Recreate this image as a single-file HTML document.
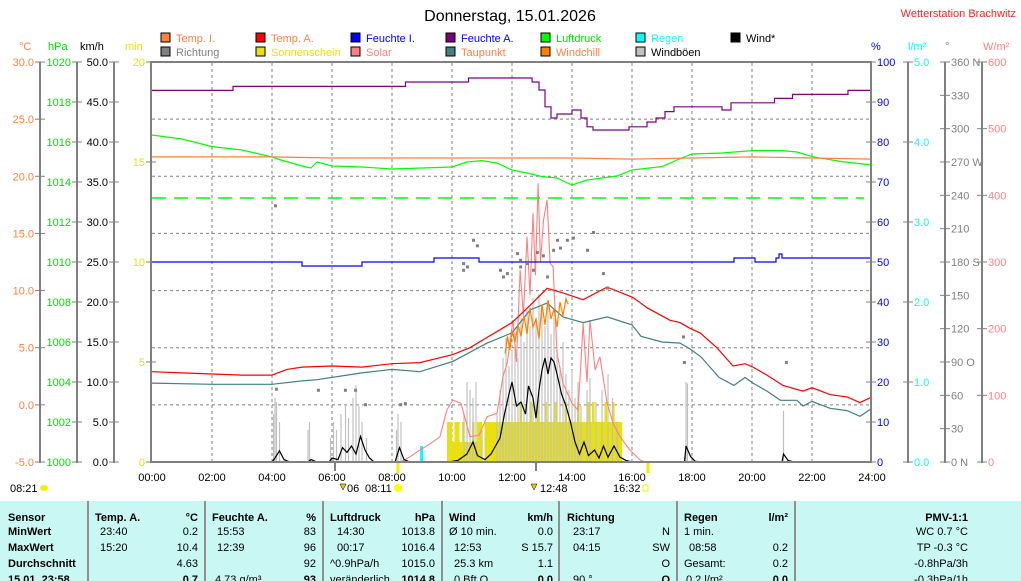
<!DOCTYPE html>
<html><head><meta charset="utf-8">
<style>
html,body{margin:0;padding:0;background:#fff;}
svg{display:block;font-family:"Liberation Sans",Arial,sans-serif;font-size:11px;}
</style></head>
<body>
<svg id="chart" xmlns="http://www.w3.org/2000/svg" width="1021" height="581" viewBox="0 0 1021 581">
  <text x="510" y="21" text-anchor="middle" font-size="16" fill="#000">Donnerstag, 15.01.2026</text>
  <text x="1016" y="17" text-anchor="end" font-size="11" fill="#ff2020">Wetterstation Brachwitz</text>

  <g id="legend"></g>
  <g id="axes"></g>
  <g id="grid"></g>
  <g id="marks"></g>
  <g id="frame">
    <line x1="151" y1="62" x2="872" y2="62" stroke="#808080" stroke-width="2"/>
    <line x1="151" y1="61" x2="151" y2="463" stroke="#808080" stroke-width="2"/>
    <line x1="871" y1="61" x2="871" y2="463" stroke="#808080" stroke-width="2"/>
    <line x1="151" y1="462" x2="872" y2="462" stroke="#808080" stroke-width="2"/>
  </g>
  <g id="xaxis"></g>

  <g>
    <line x1="335" y1="463" x2="335" y2="471" stroke="#808080" stroke-width="2"/>
    <line x1="536" y1="463" x2="536" y2="471" stroke="#808080" stroke-width="2"/>
    <line x1="398" y1="463" x2="398" y2="473" stroke="#f0f000" stroke-width="3"/>
    <line x1="648" y1="463" x2="648" y2="473" stroke="#f0f000" stroke-width="3"/>
    <text x="10" y="492" fill="#000">08:21</text>
    <ellipse cx="44" cy="488" rx="4" ry="3" fill="#f0f000"/>
    <path d="M340 484 l3 6 l3 -6 z" fill="#e0d000" stroke="#000" stroke-width="0.5"/>
    <text x="347" y="492" fill="#000">06</text>
    <text x="365" y="492" fill="#000">08:11</text>
    <circle cx="398" cy="488" r="4" fill="#ffff00"/>
    <path d="M531 484 l3 6 l3 -6 z" fill="#e0d000" stroke="#000" stroke-width="0.5"/>
    <text x="540" y="492" fill="#000">12:48</text>
    <text x="613" y="492" fill="#000">16:32</text>
    <rect x="643" y="485" width="5" height="6" fill="none" stroke="#f0f000"/>
  </g>

  <g font-size="11">
    <rect x="0" y="501" width="1021" height="80" fill="#c9f7f3"/>
    <g stroke="#909090" stroke-width="2">
      <line x1="88" y1="501" x2="88" y2="581"/>
      <line x1="205" y1="501" x2="205" y2="581"/>
      <line x1="323" y1="501" x2="323" y2="581"/>
      <line x1="442" y1="501" x2="442" y2="581"/>
      <line x1="559" y1="501" x2="559" y2="581"/>
      <line x1="677" y1="501" x2="677" y2="581"/>
      <line x1="795" y1="501" x2="795" y2="581"/>
    </g>
    <g font-weight="bold" fill="#000">
      <text x="8" y="521">Sensor</text><text x="8" y="535">MinWert</text><text x="8" y="551">MaxWert</text><text x="8" y="567">Durchschnitt</text><text x="8" y="583">15.01. 23:58</text>
    </g>
    <g fill="#000">
      <text x="95" y="521" font-weight="bold">Temp. A.</text><text x="198" y="521" text-anchor="end" font-weight="bold">°C</text>
      <text x="100" y="535">23:40</text><text x="198" y="535" text-anchor="end">0.2</text>
      <text x="100" y="551">15:20</text><text x="198" y="551" text-anchor="end">10.4</text>
      <text x="198" y="567" text-anchor="end">4.63</text>
      <text x="198" y="583" text-anchor="end" font-weight="bold">0.7</text>
    </g>
    <g fill="#000">
      <text x="212" y="521" font-weight="bold">Feuchte A.</text><text x="316" y="521" text-anchor="end" font-weight="bold">%</text>
      <text x="217" y="535">15:53</text><text x="316" y="535" text-anchor="end">83</text>
      <text x="217" y="551">12:39</text><text x="316" y="551" text-anchor="end">96</text>
      <text x="316" y="567" text-anchor="end">92</text>
      <text x="215" y="583">4.73 g/m³</text><text x="316" y="583" text-anchor="end" font-weight="bold">93</text>
    </g>
    <g fill="#000">
      <text x="330" y="521" font-weight="bold">Luftdruck</text><text x="435" y="521" text-anchor="end" font-weight="bold">hPa</text>
      <text x="337" y="535">14:30</text><text x="435" y="535" text-anchor="end">1013.8</text>
      <text x="337" y="551">00:17</text><text x="435" y="551" text-anchor="end">1016.4</text>
      <text x="330" y="567">^0.9hPa/h</text><text x="435" y="567" text-anchor="end">1015.0</text>
      <text x="330" y="583">veränderlich</text><text x="435" y="583" text-anchor="end" font-weight="bold">1014.8</text>
    </g>
    <g fill="#000">
      <text x="449" y="521" font-weight="bold">Wind</text><text x="553" y="521" text-anchor="end" font-weight="bold">km/h</text>
      <text x="449" y="535">Ø 10 min.</text><text x="553" y="535" text-anchor="end">0.0</text>
      <text x="454" y="551">12:53</text><text x="553" y="551" text-anchor="end">S 15.7</text>
      <text x="454" y="567">25.3 km</text><text x="553" y="567" text-anchor="end">1.1</text>
      <text x="454" y="583">0 Bft O</text><text x="553" y="583" text-anchor="end" font-weight="bold">0.0</text>
    </g>
    <g fill="#000">
      <text x="567" y="521" font-weight="bold">Richtung</text>
      <text x="573" y="535">23:17</text><text x="670" y="535" text-anchor="end">N</text>
      <text x="573" y="551">04:15</text><text x="670" y="551" text-anchor="end">SW</text>
      <text x="670" y="567" text-anchor="end">O</text>
      <text x="573" y="583">90 °</text><text x="670" y="583" text-anchor="end" font-weight="bold">O</text>
    </g>
    <g fill="#000">
      <text x="684" y="521" font-weight="bold">Regen</text><text x="788" y="521" text-anchor="end" font-weight="bold">l/m²</text>
      <text x="684" y="535">1 min.</text>
      <text x="689" y="551">08:58</text><text x="788" y="551" text-anchor="end">0.2</text>
      <text x="684" y="567">Gesamt:</text><text x="788" y="567" text-anchor="end">0.2</text>
      <text x="686" y="583">0.2 l/m²</text><text x="788" y="583" text-anchor="end" font-weight="bold">0.0</text>
    </g>
    <g fill="#000" text-anchor="end">
      <text x="968" y="521" font-weight="bold">PMV-1:1</text>
      <text x="968" y="535">WC 0.7 °C</text>
      <text x="968" y="551">TP -0.3 °C</text>
      <text x="968" y="567">-0.8hPa/3h</text>
      <text x="968" y="583">-0.3hPa/1h</text>
    </g>
  </g>
</svg>
<script>
const NS = "http://www.w3.org/2000/svg";
// ---------- data ----------
const hourTicks = ["00:00","02:00","04:00","06:00","08:00","10:00","12:00","14:00","16:00","18:00","20:00","22:00","24:00"];
const tempATimes = [0,1,2,3,4,4.5,5,6,7,8,8.93,10.03,10.6,11.17,12,12.6,13.17,13.7,14.37,15.17,16.03,16.5,17.27,17.6,17.93,18.27,18.83,19.37,19.77,20.03,20.5,21.03,21.7,22,22.6,23.17,23.6,24];
const tempAValues = [2.9,2.8,2.7,2.6,2.6,3.1,3.3,3.4,3.3,3.6,3.7,4.4,5.0,5.9,7.2,8.7,10.2,9.8,9.2,10.3,9.4,8.5,7.4,7.2,6.7,6.3,5.0,3.4,3.6,3.3,2.6,1.7,1.2,1.5,0.9,0.7,0.2,0.7];
const dewTimes = [0,2,4,5,5.5,6.5,7,8,8.93,10.03,11.17,12,12.6,13.17,13.7,14.37,15.17,16.0,16.3,17,17.6,17.93,18.3,18.9,19.4,19.77,20.03,20.5,20.95,21.5,21.7,22,22.6,23.17,23.6,24];
const dewValues = [1.9,1.8,1.8,2.1,2.2,2.6,2.8,3.1,2.9,3.8,5.4,6.3,8.3,8.9,7.7,7.2,7.7,7.0,6.0,5.5,5.4,4.9,4.2,2.4,1.7,2.4,1.9,1.2,0.4,0.4,-0.1,0.3,-0.3,-0.5,-1.0,-0.3];
const tempITimes = [0,2,4,6,8,10,12,14,16,18,20,22,24];
const tempIValues = [21.7,21.7,21.7,21.6,21.6,21.6,21.6,21.6,21.5,21.6,21.7,21.6,21.5];
const humATimes = [0,2.6,2.7,8.4,8.45,10.5,10.55,12.6,12.67,12.9,13.1,13.3,13.5,14.0,14.3,14.5,14.7,15.8,15.9,16.5,16.8,17.1,17.4,18.85,19.0,19.3,20.7,20.75,21.3,21.35,23.15,23.2,24];
const humAValues = [92.9,92.9,93.9,93.9,95,95,96,96,95,93,88.8,86,87,88,86,83.8,83,83,83.8,85,86,87.6,88.8,88.8,88,89.8,89.8,90.9,90.9,91.9,91.9,92.9,92.9];
const humITimes = [0,4.9,5.0,6.9,7.0,9.3,9.4,10.8,10.9,19.3,19.4,20.0,20.1,20.8,20.9,21.0,22.0,24];
const humIValues = [50,50,49,49,50,50,51,51,50,50,51,51,50,51,52,51,51,51];
const pressTimes = [0,0.5,1,2,3,4,4.3,5,5.3,5.5,6,7,8,9,10,10.5,11,11.5,12,12.5,13,13.5,14,14.5,15,15.5,16,17,17.5,18,19,20,21,21.5,22,23,24];
const pressValues = [1016.35,1016.25,1016.15,1015.77,1015.6,1015.25,1015.1,1014.8,1014.7,1015.0,1014.8,1014.75,1014.65,1014.7,1014.75,1015.0,1015.07,1014.95,1014.6,1014.45,1014.27,1014.2,1013.85,1014.1,1014.2,1014.3,1014.6,1014.77,1015.1,1015.4,1015.45,1015.57,1015.57,1015.5,1015.27,1015.02,1014.85];
const pressRef = [1013.2];
const chillTimes = [11.77,11.85,11.93,12.0,12.1,12.2,12.3,12.4,12.5,12.6,12.7,12.8,12.9,13.0,13.1,13.2,13.3,13.4,13.5,13.6,13.7,13.8,13.87];
const chillValues = [4.5,6.0,4.8,6.5,5.5,7.0,6.0,7.8,6.2,8.5,6.8,7.5,5.8,8.8,7.0,9.2,7.5,8.4,6.8,9.0,7.8,9.3,8.8];
const solarTimes = [8.3,8.6,8.93,9.3,9.6,9.83,10.03,10.3,10.6,10.9,11.17,11.5,11.7,11.85,12.03,12.15,12.27,12.38,12.5,12.6,12.7,12.78,12.87,12.95,13.05,13.17,13.27,13.37,13.5,13.7,14.0,14.2,14.3,14.37,14.5,14.6,14.77,14.93,15.17,15.37,15.6,15.93,16.27,16.45];
const solarValues = [0,8,18,28,38,78,93,88,38,40,68,73,128,150,213,150,288,220,338,250,373,280,418,300,363,393,298,293,163,118,88,78,150,208,120,213,138,158,88,58,38,18,3,0];
const dirTimes = [4.1,4.13,5.53,6.43,6.77,7.1,8.27,8.43,10.37,10.37,10.5,10.7,10.83,11.6,11.7,11.83,12.17,12.27,12.27,12.5,12.7,12.83,13.03,13.17,13.37,13.5,13.6,13.83,14.03,14.5,14.7,15.03,15.17,17.7,17.73,21.13];
const dirValues = [231,66,65,65,65,52,52,53,173,179,176,200,195,173,167,170,188,176,182,179,173,189,186,167,191,200,193,200,202,191,207,170,157,113,90,90];
const windTimes = [0,4.0,4.1,4.25,4.4,4.6,5.2,5.3,5.5,5.9,6.0,6.2,6.35,6.5,6.65,6.8,6.95,7.1,7.25,7.4,8.1,8.25,8.4,8.6,9.9,10.2,10.5,10.7,10.85,11.1,11.3,11.45,11.6,11.75,11.9,12.0,12.15,12.3,12.45,12.55,12.7,12.8,12.9,13.0,13.1,13.2,13.3,13.4,13.5,13.65,13.8,13.95,14.1,14.25,14.4,14.55,14.75,14.9,15.05,15.2,15.4,15.6,15.8,16.0,17.75,17.8,17.95,18.1,18.3,21.0,21.05,21.2,21.4,24];
const windValues = [0,0,0.5,1.4,0.3,0,0,0.3,0,0,0.5,0.3,1.8,1.2,2.0,1.0,3.2,1.5,0.5,0,0,1.8,0.3,0,0,0.2,1.0,2.5,0.8,0.3,1.0,2.0,3.0,6.0,8.5,10.0,7.0,7.5,6.0,9.5,8.0,5.5,9.0,11.5,13.0,11.0,13.0,12.5,11.0,8.5,7.0,5.0,2.5,1.0,2.5,0.8,1.5,0.5,2.0,0.6,2.0,0.6,0.2,0,0,2.0,0.7,0.1,0,0,1.0,0.2,0,0];
const gustTimes = [4.05,4.1,4.15,4.25,5.2,5.25,5.95,6.05,6.15,6.3,6.45,6.55,6.7,6.8,6.9,7.0,7.15,8.15,8.2,8.3,10.4,10.5,10.6,10.7,10.8,11.0,11.5,11.6,11.7,11.8,11.9,12.0,12.1,12.2,12.3,12.4,12.5,12.6,12.7,12.8,12.9,13.0,13.1,13.2,13.3,13.4,13.5,13.6,13.7,13.8,13.9,14.0,14.1,14.2,14.3,14.5,14.6,14.8,15.0,15.2,15.35,15.5,17.8,17.85,21.05];
const gustValues = [6,8,7.5,5,4,5,3,5,4,6,7,5.5,8,9.6,7,5,3,4,6,5,6,10,9,8,10,4,6,9,13,15.5,12,14,16,13,18,15,19,17,20.5,18,21,19,17,20,16,18,14,12,15,11,9,11.5,8,10,7,9,10.5,7.5,9,11,8,5,10,9.8,6.4];
const sunStart = 9.833;
const sunMinutes = [2,2,1,2,2,1,2, 1,1,1,2,1,2,2, 0,2,2, 2,2,2,2,2,2,2,2,2, 2,2,2,3,2,2,2,3,2,2,3,2, 2,3,2,2,2,3,2,2,2,3,2,2, 2,2,3,2,2,2,3,2,3,2,2,2, 2,3,2,2,3,2,2,2];
const rainTimes = [8.97];
const rainValues = [0.2];
const cLabels = ["30.0","25.0","20.0","15.0","10.0","5.0","0.0","-5.0"];
const hpaLabels = ["1020","1018","1016","1014","1012","1010","1008","1006","1004","1002","1000"];
const kmhLabels = ["50.0","45.0","40.0","35.0","30.0","25.0","20.0","15.0","10.0","5.0","0.0"];
const minLabels = ["20","15","10","5","0"];
const pctLabels = ["100","90","80","70","60","50","40","30","20","10","0"];
const lmLabels = ["5.0","4.0","3.0","2.0","1.0","0.0"];
const degLabels = ["360 N","330","300","270 W","240","210","180 S","150","120","90 O","60","30","0 N"];
const wLabels = ["600","500","400","300","200","100","0"];

// ---------- scales ----------
const X = t => 152 + t * 30;
const yC = c => 462 - (c + 5) * 400 / 35;
const yP = p => 462 - (p - 1000) * 20;
const yK = v => 462 - v * 8;
const yM = m => 462 - m * 20;
const yPct = h => 462 - h * 4;
const yR = r => 462 - r * 80;
const yD = d => 462 - d * 400 / 360;
const yW = w => 462 - w * 400 / 600;

function el(tag, parent, attrs) {
  const e = document.createElementNS(NS, tag);
  for (const k in attrs) e.setAttribute(k, attrs[k]);
  parent.appendChild(e);
  return e;
}
const gAxes = document.getElementById('axes');
const gGrid = document.getElementById('grid');
const gMarks = document.getElementById('marks');
const gX = document.getElementById('xaxis');
const gLeg = document.getElementById('legend');

// ---------- legend ----------
const legNames = [["Temp. I.","#ff8040","#ff8040",161,38],["Richtung","#808080","#808080",161,52],
 ["Temp. A.","#ff0000","#ff8040",256,38],["Sonnenschein","#e8e010","#e8e010",256,52],
 ["Feuchte I.","#0000ff","#0000ff",351,38],["Solar","#ff8080","#ff8080",351,52],
 ["Feuchte A.","#800080","#0000ff",446,38],["Taupunkt","#408080","#ff8040",446,52],
 ["Luftdruck","#00ff00","#00e000",541,38],["Windchill","#ff8000","#ff8040",541,52],
 ["Regen","#00ffff","#00ffff",636,38],["Windböen","#c0c0c0","#000",636,52],
 ["Wind*","#000","#000",731,38]];
legNames.forEach(l => {
  const g = el('g', gLeg, {});
  
  
  el('rect', g, {x: l[3], y: l[4]-5, width: 9, height: 9, fill: l[1], stroke: '#000', 'stroke-width': 1});
  const t = el('text', g, {x: l[3]+15, y: l[4]+4, fill: l[2]});
  t.textContent = l[0];
});

// ---------- axes ----------
function axis(labels, ax, side, color, unit, unitX, name) {
  const g = el('g', gAxes, {});
  
  
  const n = labels.length - 1;
  el('line', g, {x1: ax, y1: 62, x2: ax, y2: 463, stroke: '#808080', 'stroke-width': 2});
  labels.forEach((lab, i) => {
    const y = 62 + i * 400 / n;
    el('line', g, {x1: ax-5, y1: y, x2: ax+5, y2: y, stroke: '#808080', 'stroke-width': 1});
    const t = el('text', g, side === 'L' ? {x: ax-6, y: y+4, fill: color, 'text-anchor': 'end'} : {x: ax+6, y: y+4, fill: color});
    t.textContent = lab;
  });
  const u = el('text', g, {x: unitX, y: 50, fill: color});
  u.textContent = unit;
}
axis(cLabels, 40, 'L', '#ff8040', '°C', 19, 'celsius-axis');
axis(hpaLabels, 77, 'L', '#00e000', 'hPa', 48, 'pressure-axis');
axis(kmhLabels, 114, 'L', '#000', 'km/h', 80, 'wind-axis');
axis(minLabels, 151, 'L', '#e8e010', 'min', 125, 'sunshine-axis');
axis(pctLabels, 871, 'R', '#0000ff', '%', 871, 'humidity-axis');
axis(lmLabels, 908, 'R', '#00ffff', 'l/m²', 908, 'rain-axis');
axis(degLabels, 945, 'R', '#808080', '°', 945, 'direction-axis');
axis(wLabels, 982, 'R', '#ff8080', 'W/m²', 983, 'solar-axis');

// ---------- grid ----------
for (let i = 1; i < hourTicks.length - 1; i++) {
  const gl = el('line', gGrid, {x1: X(i*2), y1: 63, x2: X(i*2), y2: 461, stroke: '#808080', 'stroke-dasharray': '3,3'});
  
  
}
for (let i = 1; i < cLabels.length - 1; i++) {
  const y = yC(30 - i*5);
  const gl = el('line', gGrid, {x1: 152, y1: y, x2: 870, y2: y, stroke: '#808080', 'stroke-dasharray': '3,3'});
  
  
}
hourTicks.forEach((h, i) => {
  const t = el('text', gX, {x: X(i*2), y: 481, 'text-anchor': 'middle', fill: '#000'});
  
  
  t.textContent = h;
});

// ---------- marks ----------
sunMinutes.forEach((m, i) => {
  if (m <= 0) return;
  const t = sunStart + i / 12;
  const r = el('rect', gMarks, {x: X(t), y: yM(m), width: 2.6, height: 462 - yM(m), fill: '#e8e010'});
  
  
});
rainTimes.forEach((t, i) => {
  const r = el('rect', gMarks, {x: X(t)-1, y: yR(rainValues[i]), width: 3, height: 462 - yR(rainValues[i]), fill: '#00ffff'});
  
  
});
gustTimes.forEach((t, i) => {
  const l = el('line', gMarks, {x1: X(t), y1: 462, x2: X(t), y2: yK(gustValues[i]), stroke: '#c0c0c0', 'stroke-width': 1.2});
  
  
});
function line(times, vals, yf, color, name, w, step) {
  let d = '';
  times.forEach((t, i) => {
    const x = X(t), y = yf(vals[i]);
    if (i === 0) d += 'M' + x.toFixed(1) + ' ' + y.toFixed(1);
    else if (step) d += ' H' + x.toFixed(1) + ' V' + y.toFixed(1);
    else d += ' L' + x.toFixed(1) + ' ' + y.toFixed(1);
  });
  const p = el('path', gMarks, {d: d, fill: 'none', stroke: color, 'stroke-width': w || 1.2});
  
  
  return p;
}
line(solarTimes, solarValues, yW, '#ff8080', 'solar-line', 1.1);
const pr = el('line', gMarks, {x1: 152, y1: yP(pressRef[0]), x2: 864, y2: yP(pressRef[0]), stroke: '#00ff00', 'stroke-width': 1.5, 'stroke-dasharray': '14,8'});


line(pressTimes, pressValues, yP, '#00ff00', 'pressure-line', 1.2);
line(tempITimes, tempIValues, yC, '#ff8040', 'temp-indoor-line', 1.2);
line(humITimes, humIValues, yPct, '#0000ff', 'humidity-indoor-line', 1.2, true);
line(humATimes, humAValues, yPct, '#800080', 'humidity-outdoor-line', 1.2, true);
line(dewTimes, dewValues, yC, '#408080', 'dewpoint-line', 1.2);
line(tempATimes, tempAValues, yC, '#ff0000', 'temp-outdoor-line', 1.2);
line(chillTimes, chillValues, yC, '#ff8000', 'windchill-line', 1.2);
line(windTimes, windValues, yK, '#000000', 'wind-line', 1.2);
dirTimes.forEach((t, i) => {
  const r = el('rect', gMarks, {x: X(t)-1, y: yD(dirValues[i])-1, width: 3, height: 3, fill: '#808080'});
  
  
});
</script>
</body></html>
